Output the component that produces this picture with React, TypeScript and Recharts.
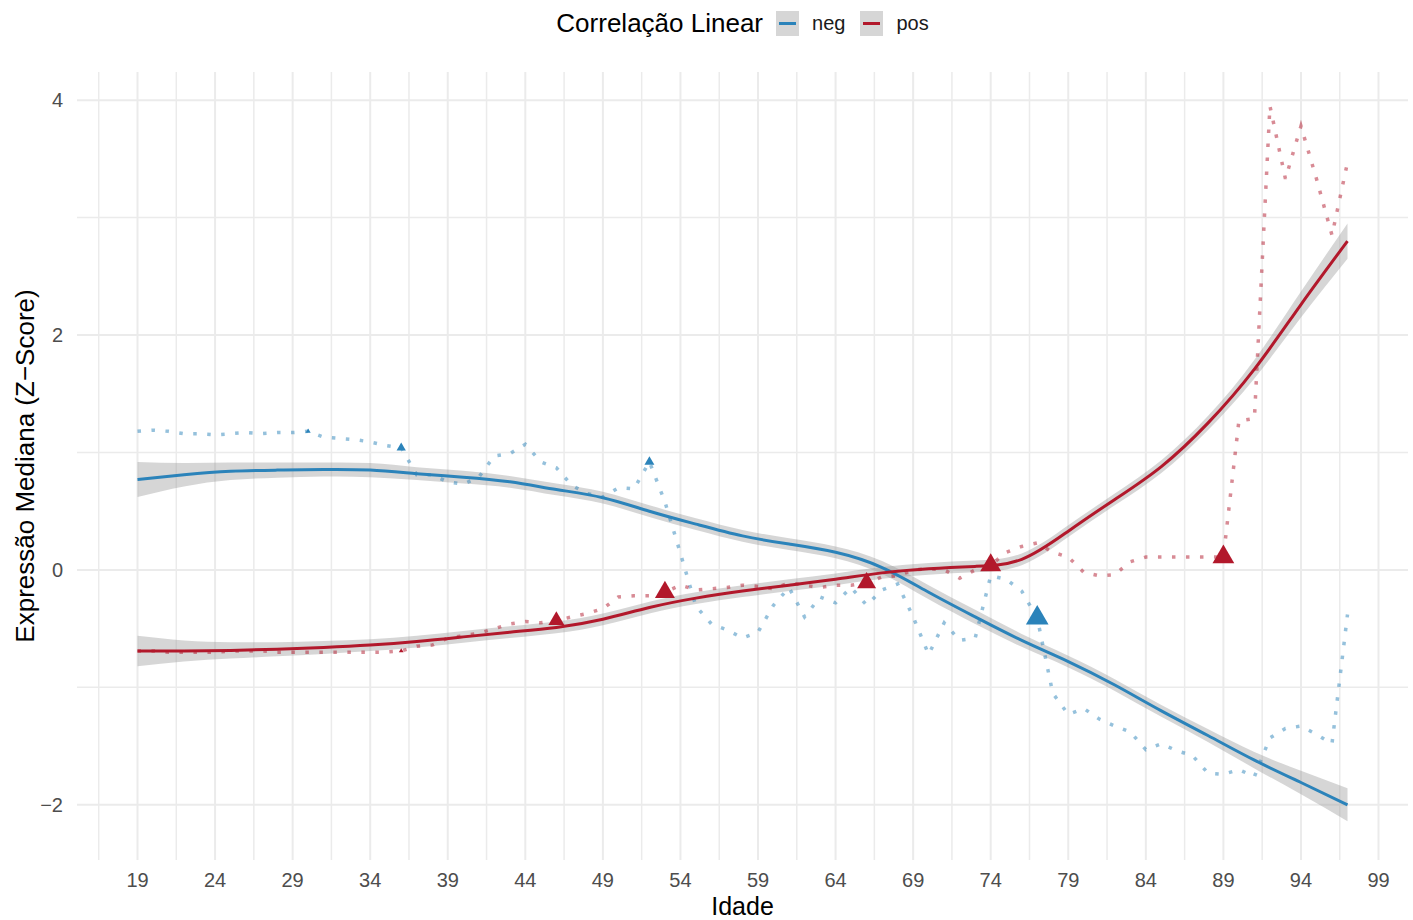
import React from 'react';
import { ComposedChart, Line, Area, Scatter, XAxis, YAxis, ZAxis, CartesianGrid, Label } from 'recharts';

const FONTE = '"Liberation Sans", Arial, Helvetica, sans-serif';
const AZUL = '#2B83BA';
const VERMELHO = '#B2182B';

// Idades (anos) e medianas do Z-score por grupo de correlação
const idades = [
  19, 20, 21, 22, 23, 24, 25, 26, 27, 28, 29, 30, 31, 32, 33, 34, 35, 36, 37, 38,
  39, 40, 41, 42, 43, 44, 45, 46, 47, 48, 49, 50, 51, 52, 53, 54, 55, 56, 57, 58,
  59, 60, 61, 62, 63, 64, 65, 66, 67, 68, 69, 70, 71, 72, 73, 74, 75, 76, 77, 78,
  79, 80, 81, 82, 83, 84, 85, 86, 87, 88, 89, 90, 91, 92, 93, 94, 95, 96, 97,
];

const medianaNeg = [
  1.18, 1.19, 1.18, 1.16, 1.16, 1.15, 1.16, 1.17, 1.16, 1.17, 1.17, 1.18, 1.13, 1.12, 1.11, 1.09, 1.06, 1.04, 0.81, 0.81,
  0.75, 0.73, 0.79, 0.97, 0.99, 1.07, 0.92, 0.87, 0.72, 0.65, 0.62, 0.70, 0.69, 0.92, 0.58, 0.14, -0.31, -0.46, -0.51, -0.58,
  -0.53, -0.30, -0.15, -0.40, -0.23, -0.28, -0.15, -0.30, -0.17, -0.12, -0.40, -0.72, -0.45, -0.60, -0.58, -0.05, -0.08, -0.18, -0.41, -1.05,
  -1.23, -1.18, -1.27, -1.33, -1.38, -1.53, -1.48, -1.54, -1.58, -1.73, -1.74, -1.70, -1.76, -1.43, -1.35, -1.33, -1.40, -1.48, -0.38,
];

const medianaPos = [
  -0.69, -0.69, -0.70, -0.70, -0.70, -0.70, -0.69, -0.69, -0.69, -0.70, -0.70, -0.70, -0.70, -0.70, -0.70, -0.70, -0.70, -0.69, -0.65, -0.64,
  -0.58, -0.56, -0.54, -0.50, -0.46, -0.44, -0.45, -0.43, -0.40, -0.37, -0.33, -0.23, -0.22, -0.22, -0.19, -0.13, -0.17, -0.16, -0.15, -0.13,
  -0.14, -0.16, -0.11, -0.13, -0.15, -0.13, -0.13, -0.11, -0.06, -0.05, 0.00, 0.01, 0.00, -0.07, 0.00, 0.04, 0.15, 0.20, 0.23, 0.15,
  0.11, -0.02, -0.05, -0.04, 0.07, 0.11, 0.11, 0.11, 0.11, 0.11, 0.11, 1.27, 1.29, 3.95, 3.33, 3.78, 3.33, 2.85, 3.47,
];

// Curvas suavizadas (loess) e meia-largura do intervalo de confiança
const idadesAjuste = [19, 22, 25, 28, 31, 34, 37, 40, 43, 46, 49, 52, 55, 58, 61, 64, 67, 70, 73, 76, 79, 82, 85, 88, 91, 94, 97];
const ajusteNeg = [0.77, 0.81, 0.84, 0.85, 0.855, 0.85, 0.82, 0.79, 0.75, 0.685, 0.615, 0.50, 0.39, 0.29, 0.22, 0.15, 0.02, -0.19, -0.40, -0.60, -0.78, -0.98, -1.20, -1.41, -1.62, -1.81, -2.00];
const icNeg = [0.15, 0.10, 0.075, 0.065, 0.06, 0.06, 0.055, 0.055, 0.05, 0.05, 0.05, 0.05, 0.05, 0.05, 0.05, 0.05, 0.055, 0.06, 0.06, 0.055, 0.05, 0.05, 0.05, 0.055, 0.07, 0.10, 0.14];
const ajustePos = [-0.69, -0.69, -0.685, -0.675, -0.66, -0.64, -0.61, -0.57, -0.53, -0.49, -0.42, -0.32, -0.24, -0.18, -0.13, -0.08, -0.025, 0.01, 0.03, 0.09, 0.33, 0.60, 0.88, 1.25, 1.71, 2.26, 2.80];
const icPos = [0.13, 0.09, 0.07, 0.06, 0.055, 0.05, 0.05, 0.05, 0.05, 0.05, 0.05, 0.05, 0.05, 0.05, 0.05, 0.05, 0.05, 0.05, 0.05, 0.05, 0.05, 0.05, 0.055, 0.06, 0.08, 0.11, 0.15];

// Idades destacadas com triângulos (peso define a área do marcador)
const destaquesNeg = [
  { idade: 30, peso: 0.45 },
  { idade: 36, peso: 1.5 },
  { idade: 52, peso: 1.7 },
  { idade: 77, peso: 8.9 },
];
const destaquesPos = [
  { idade: 36, peso: 0.4 },
  { idade: 46, peso: 4.4 },
  { idade: 53, peso: 6.9 },
  { idade: 66, peso: 6.2 },
  { idade: 74, peso: 7.6 },
  { idade: 89, peso: 8.2 },
];

const ticksIdade = [19, 24, 29, 34, 39, 44, 49, 54, 59, 64, 69, 74, 79, 84, 89, 94, 99];
const ticksIdadeMenor = [16.5, 21.5, 26.5, 31.5, 36.5, 41.5, 46.5, 51.5, 56.5, 61.5, 66.5, 71.5, 76.5, 81.5, 86.5, 91.5, 96.5];
const ticksZ = [-2, 0, 2, 4];
const ticksZMenor = [-1, 1, 3];

const serie = (valores: number[]) => idades.map((idade, i) => ({ idade, valor: valores[i] }));
const ajuste = (fit: number[], ic: number[]) =>
  idadesAjuste.map((idade, i) => ({ idade, ajuste: fit[i], faixa: [fit[i] - ic[i], fit[i] + ic[i]] }));
const destaques = (lista: { idade: number; peso: number }[], valores: number[]) =>
  lista.map((d) => ({ idade: d.idade, valor: valores[idades.indexOf(d.idade)], peso: d.peso }));

const serieNeg = serie(medianaNeg);
const seriePos = serie(medianaPos);
const ajusteNegDados = ajuste(ajusteNeg, icNeg);
const ajustePosDados = ajuste(ajustePos, icPos);
const triNeg = destaques(destaquesNeg, medianaNeg);
const triPos = destaques(destaquesPos, medianaPos);

const menos = (v: number) => String(v).replace('-', '\u2212');

const RotuloY = ({ viewBox }: any) => {
  const cy = viewBox.y + viewBox.height / 2;
  return (
    <text x={34} y={cy} transform={`rotate(-90, 34, ${cy})`} textAnchor="middle" fontSize={26} fill="#000" fontFamily={FONTE}>
      Expressão Mediana (Z{'\u2212'}Score)
    </text>
  );
};

const Chave = ({ cor }: { cor: string }) => (
  <svg width={23} height={25} style={{ display: 'block' }}>
    <rect x={0} y={0} width={23} height={25} fill="#d6d6d6" />
    <line x1={3} x2={20} y1={12.5} y2={12.5} stroke={cor} strokeWidth={3} />
  </svg>
);

export default function App() {
  const eixoTick = { fill: '#4d4d4d', fontSize: 20, fontFamily: FONTE };
  return (
    <div style={{ position: 'absolute', left: 0, top: 0, width: 1413, height: 920, background: '#fff' }}>
      <ComposedChart width={1413} height={920} margin={{ top: 72, right: 5, bottom: 0, left: 0 }}>
        <CartesianGrid stroke="#ebebeb" strokeWidth={1.5} verticalValues={ticksIdadeMenor} horizontalValues={ticksZMenor} />
        <CartesianGrid stroke="#ebebeb" strokeWidth={2} verticalValues={ticksIdade} horizontalValues={ticksZ} />
        <XAxis
          type="number"
          dataKey="idade"
          domain={[15.1, 100.9]}
          ticks={ticksIdade}
          interval={0}
          allowDataOverflow
          axisLine={false}
          tickLine={false}
          tickSize={0}
          tickMargin={13}
          height={60}
          tick={eixoTick}
        >
          <Label value="Idade" position="insideBottom" offset={5} fill="#000" fontSize={25} fontFamily={FONTE} />
        </XAxis>
        <YAxis
          type="number"
          domain={[-2.47, 4.24]}
          ticks={ticksZ}
          allowDataOverflow
          axisLine={false}
          tickLine={false}
          tickSize={0}
          tickMargin={14}
          width={77}
          tick={eixoTick}
          tickFormatter={menos}
        >
          <Label content={RotuloY} />
        </YAxis>
        <ZAxis type="number" dataKey="peso" range={[0, 250]} domain={[0, 10]} />

        <Area data={ajusteNegDados} dataKey="faixa" type="natural" stroke="none" fill="#999999" fillOpacity={0.4} isAnimationActive={false} />
        <Area data={ajustePosDados} dataKey="faixa" type="natural" stroke="none" fill="#999999" fillOpacity={0.4} isAnimationActive={false} />

        <Line data={serieNeg} dataKey="valor" type="linear" stroke={AZUL} strokeOpacity={0.5} strokeWidth={3.5} strokeDasharray="3.5 10.5" dot={false} activeDot={false} isAnimationActive={false} />
        <Line data={seriePos} dataKey="valor" type="linear" stroke={VERMELHO} strokeOpacity={0.5} strokeWidth={3.5} strokeDasharray="3.5 10.5" dot={false} activeDot={false} isAnimationActive={false} />

        <Line data={ajusteNegDados} dataKey="ajuste" type="natural" stroke={AZUL} strokeWidth={3} dot={false} activeDot={false} isAnimationActive={false} />
        <Line data={ajustePosDados} dataKey="ajuste" type="natural" stroke={VERMELHO} strokeWidth={3} dot={false} activeDot={false} isAnimationActive={false} />

        <Scatter data={triNeg} dataKey="valor" shape="triangle" fill={AZUL} isAnimationActive={false} />
        <Scatter data={triPos} dataKey="valor" shape="triangle" fill={VERMELHO} isAnimationActive={false} />
      </ComposedChart>

      <div
        style={{
          position: 'absolute',
          left: 77,
          top: 0,
          width: 1331,
          height: 46,
          display: 'flex',
          alignItems: 'center',
          justifyContent: 'center',
          fontFamily: FONTE,
        }}
      >
        <span style={{ fontSize: 26, color: '#000', marginRight: 13 }}>Correlação Linear</span>
        <Chave cor={AZUL} />
        <span style={{ fontSize: 20, color: '#1a1a1a', marginLeft: 13, marginRight: 15 }}>neg</span>
        <Chave cor={VERMELHO} />
        <span style={{ fontSize: 20, color: '#1a1a1a', marginLeft: 13 }}>pos</span>
      </div>
    </div>
  );
}
